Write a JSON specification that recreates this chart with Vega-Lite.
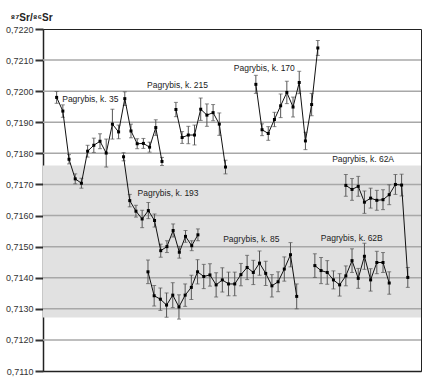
{
  "$schema": "https://vega.github.io/schema/vega-lite/v6.json",
  "width": 378,
  "height": 342,
  "autosize": "none",
  "padding": {"left": 43, "top": 29, "right": 7, "bottom": 10},
  "config": {
    "view": {"stroke": "#222", "strokeWidth": 1},
    "font": "Liberation Sans",
    "axisY": {
      "labelFontSize": 9, "labelColor": "#333", "labelPadding": 2,
      "tickSize": 8, "tickWidth": 2, "tickColor": "#333",
      "domainColor": "#222", "domainWidth": 1.5, "grid": false,
      "titleAngle": 0, "titleAlign": "left", "titleBaseline": "middle",
      "titleX": -33, "titleY": -12, "titleFontSize": 10, "titleFontWeight": "bold", "titleColor": "#222",
      "titleFont": "Liberation Sans, DejaVu Sans"
    },
    "axisX": {"labels": false, "ticks": false, "grid": false, "domainColor": "#222", "domainWidth": 1.5}
  },
  "resolve": {"axis": {"y": "independent", "x": "independent"}},
  "datasets": {
    "band": [{"lo": 0.71272, "hi": 0.71761}],
    "grid": [{"g": 0.7210}, {"g": 0.7200}, {"g": 0.7190}, {"g": 0.7180}, {"g": 0.7170}, {"g": 0.7160}, {"g": 0.7150}, {"g": 0.7140}, {"g": 0.7130}, {"g": 0.7120}],
    "labels": [
      {"t": "Pagrybis, k. 35", "x": 3.1, "v": 0.71976},
      {"t": "Pagrybis, k. 215", "x": 16.8, "v": 0.72019},
      {"t": "Pagrybis, k. 170", "x": 30.8, "v": 0.72075},
      {"t": "Pagrybis, k. 193", "x": 15.27, "v": 0.71673},
      {"t": "Pagrybis, k. 85", "x": 29.08, "v": 0.71523},
      {"t": "Pagrybis, k. 62A", "x": 46.66, "v": 0.71781},
      {"t": "Pagrybis, k. 62B", "x": 44.84, "v": 0.71528}
    ],
    "pts": [
      {"s": "35", "x": 2.2, "v": 0.71980, "e": 0.00019},
      {"s": "35", "x": 3.2, "v": 0.71936, "e": 0.00020},
      {"s": "35", "x": 4.2, "v": 0.71781, "e": 0.00015},
      {"s": "35", "x": 5.2, "v": 0.71718, "e": 0.00016},
      {"s": "35", "x": 6.2, "v": 0.71704, "e": 0.00016},
      {"s": "35", "x": 7.2, "v": 0.71807, "e": 0.00019},
      {"s": "35", "x": 8.2, "v": 0.71826, "e": 0.00023},
      {"s": "35", "x": 9.2, "v": 0.71839, "e": 0.00024},
      {"s": "35", "x": 10.2, "v": 0.71801, "e": 0.00045},
      {"s": "35", "x": 11.2, "v": 0.71894, "e": 0.00048},
      {"s": "35", "x": 12.2, "v": 0.71869, "e": 0.00022},
      {"s": "35", "x": 13.2, "v": 0.71976, "e": 0.00022},
      {"s": "35", "x": 14.2, "v": 0.71872, "e": 0.00022},
      {"s": "35", "x": 15.2, "v": 0.71831, "e": 0.00016},
      {"s": "35", "x": 16.2, "v": 0.71832, "e": 0.00016},
      {"s": "35", "x": 17.2, "v": 0.71820, "e": 0.00016},
      {"s": "35", "x": 18.2, "v": 0.71883, "e": 0.00025},
      {"s": "35", "x": 19.2, "v": 0.71774, "e": 0.00013},

      {"s": "193", "x": 13.0, "v": 0.71789, "e": 0.00013},
      {"s": "193", "x": 14.0, "v": 0.71648, "e": 0.00020},
      {"s": "193", "x": 15.0, "v": 0.71614, "e": 0.00019},
      {"s": "193", "x": 16.0, "v": 0.71589, "e": 0.00028},
      {"s": "193", "x": 17.0, "v": 0.71616, "e": 0.00026},
      {"s": "193", "x": 18.0, "v": 0.71584, "e": 0.00021},
      {"s": "193", "x": 19.0, "v": 0.71487, "e": 0.00021},
      {"s": "193", "x": 20.0, "v": 0.71500, "e": 0.00019},
      {"s": "193", "x": 21.0, "v": 0.71552, "e": 0.00021},
      {"s": "193", "x": 22.0, "v": 0.71482, "e": 0.00019},
      {"s": "193", "x": 23.0, "v": 0.71533, "e": 0.00019},
      {"s": "193", "x": 24.0, "v": 0.71503, "e": 0.00016},
      {"s": "193", "x": 25.0, "v": 0.71538, "e": 0.00019},

      {"s": "215", "x": 21.45, "v": 0.71941, "e": 0.00023},
      {"s": "215", "x": 22.45, "v": 0.71851, "e": 0.00019},
      {"s": "215", "x": 23.45, "v": 0.71859, "e": 0.00028},
      {"s": "215", "x": 24.45, "v": 0.71859, "e": 0.00032},
      {"s": "215", "x": 25.45, "v": 0.71942, "e": 0.00036},
      {"s": "215", "x": 26.45, "v": 0.71923, "e": 0.00036},
      {"s": "215", "x": 27.45, "v": 0.71931, "e": 0.00026},
      {"s": "215", "x": 28.45, "v": 0.71894, "e": 0.00036},
      {"s": "215", "x": 29.45, "v": 0.71756, "e": 0.00022},

      {"s": "85", "x": 16.94, "v": 0.71419, "e": 0.00038},
      {"s": "85", "x": 17.94, "v": 0.71342, "e": 0.00033},
      {"s": "85", "x": 18.94, "v": 0.71331, "e": 0.00036},
      {"s": "85", "x": 19.94, "v": 0.71312, "e": 0.00039},
      {"s": "85", "x": 20.94, "v": 0.71344, "e": 0.00040},
      {"s": "85", "x": 21.94, "v": 0.71306, "e": 0.00039},
      {"s": "85", "x": 22.94, "v": 0.71344, "e": 0.00036},
      {"s": "85", "x": 23.94, "v": 0.71369, "e": 0.00039},
      {"s": "85", "x": 24.94, "v": 0.71419, "e": 0.00039},
      {"s": "85", "x": 25.94, "v": 0.71404, "e": 0.00039},
      {"s": "85", "x": 26.94, "v": 0.71409, "e": 0.00036},
      {"s": "85", "x": 27.94, "v": 0.71377, "e": 0.00039},
      {"s": "85", "x": 28.94, "v": 0.71393, "e": 0.00039},
      {"s": "85", "x": 29.94, "v": 0.71380, "e": 0.00038},
      {"s": "85", "x": 30.94, "v": 0.71380, "e": 0.00038},
      {"s": "85", "x": 31.94, "v": 0.71410, "e": 0.00036},
      {"s": "85", "x": 32.94, "v": 0.71433, "e": 0.00039},
      {"s": "85", "x": 33.94, "v": 0.71417, "e": 0.00039},
      {"s": "85", "x": 34.94, "v": 0.71447, "e": 0.00039},
      {"s": "85", "x": 35.94, "v": 0.71414, "e": 0.00039},
      {"s": "85", "x": 36.94, "v": 0.71374, "e": 0.00036},
      {"s": "85", "x": 37.94, "v": 0.71387, "e": 0.00032},
      {"s": "85", "x": 38.94, "v": 0.71428, "e": 0.00039},
      {"s": "85", "x": 39.94, "v": 0.71474, "e": 0.00039},
      {"s": "85", "x": 40.94, "v": 0.71340, "e": 0.00040},

      {"s": "170", "x": 34.35, "v": 0.72022, "e": 0.00029},
      {"s": "170", "x": 35.35, "v": 0.71876, "e": 0.00019},
      {"s": "170", "x": 36.35, "v": 0.71864, "e": 0.00022},
      {"s": "170", "x": 37.35, "v": 0.71909, "e": 0.00023},
      {"s": "170", "x": 38.35, "v": 0.71953, "e": 0.00038},
      {"s": "170", "x": 39.35, "v": 0.71996, "e": 0.00036},
      {"s": "170", "x": 40.35, "v": 0.71949, "e": 0.00032},
      {"s": "170", "x": 41.35, "v": 0.72028, "e": 0.00036},
      {"s": "170", "x": 42.35, "v": 0.71840, "e": 0.00028},
      {"s": "170", "x": 43.35, "v": 0.71957, "e": 0.00036},
      {"s": "170", "x": 44.35, "v": 0.72139, "e": 0.00024},

      {"s": "62B", "x": 43.87, "v": 0.71439, "e": 0.00038},
      {"s": "62B", "x": 44.87, "v": 0.71423, "e": 0.00042},
      {"s": "62B", "x": 45.87, "v": 0.71417, "e": 0.00038},
      {"s": "62B", "x": 46.87, "v": 0.71393, "e": 0.00029},
      {"s": "62B", "x": 47.87, "v": 0.71377, "e": 0.00036},
      {"s": "62B", "x": 48.87, "v": 0.71406, "e": 0.00032},
      {"s": "62B", "x": 49.87, "v": 0.71455, "e": 0.00038},
      {"s": "62B", "x": 50.87, "v": 0.71398, "e": 0.00032},
      {"s": "62B", "x": 51.87, "v": 0.71469, "e": 0.00042},
      {"s": "62B", "x": 52.87, "v": 0.71393, "e": 0.00036},
      {"s": "62B", "x": 53.87, "v": 0.71449, "e": 0.00036},
      {"s": "62B", "x": 54.87, "v": 0.71449, "e": 0.00032},
      {"s": "62B", "x": 55.87, "v": 0.71383, "e": 0.00036},

      {"s": "62A", "x": 48.87, "v": 0.71697, "e": 0.00035},
      {"s": "62A", "x": 49.87, "v": 0.71684, "e": 0.00035},
      {"s": "62A", "x": 50.87, "v": 0.71694, "e": 0.00032},
      {"s": "62A", "x": 51.87, "v": 0.71643, "e": 0.00036},
      {"s": "62A", "x": 52.87, "v": 0.71656, "e": 0.00032},
      {"s": "62A", "x": 53.87, "v": 0.71649, "e": 0.00032},
      {"s": "62A", "x": 54.87, "v": 0.71651, "e": 0.00032},
      {"s": "62A", "x": 55.87, "v": 0.71667, "e": 0.00032},
      {"s": "62A", "x": 56.87, "v": 0.71700, "e": 0.00032},
      {"s": "62A", "x": 57.87, "v": 0.71698, "e": 0.00035},
      {"s": "62A", "x": 58.87, "v": 0.71401, "e": 0.00032}
    ]
  },
  "layer": [
    {
      "data": {"name": "band"},
      "mark": {"type": "rect", "color": "#e1e1e1"},
      "encoding": {
        "y": {"field": "lo", "type": "quantitative",
              "scale": {"domain": [0.711, 0.722], "nice": false, "zero": false},
              "axis": null},
        "y2": {"field": "hi"}
      }
    },
    {
      "data": {"name": "grid"},
      "mark": {"type": "rule", "color": "#a8a8a8", "strokeWidth": 1.5},
      "encoding": {"y": {"field": "g", "type": "quantitative", "title": "⁸⁷Sr/⁸⁶Sr",
        "axis": {"values": [0.711, 0.712, 0.713, 0.714, 0.715, 0.716, 0.717, 0.718, 0.719, 0.72, 0.721, 0.722],
                 "labelOverlap": false, "labelSeparation": 0, "labelBound": false, "labelFlush": false,
                 "labelExpr": "replace(format(datum.value, '.4f'), '.', ',')"}}}
    },
    {
      "data": {"name": "pts"},
      "mark": {"type": "errorbar", "ticks": {"size": 4, "color": "#555"}, "rule": {"color": "#555", "strokeWidth": 1}},
      "encoding": {
        "x": {"field": "x", "type": "quantitative", "scale": {"domain": [0, 61], "nice": false, "zero": false}, "axis": {"title": null}},
        "y": {"field": "v", "type": "quantitative", "axis": null},
        "yError": {"field": "e"}
      }
    },
    {
      "data": {"name": "pts"},
      "mark": {"type": "line", "color": "#111", "strokeWidth": 1},
      "encoding": {
        "x": {"field": "x", "type": "quantitative", "axis": null},
        "y": {"field": "v", "type": "quantitative", "axis": null},
        "detail": {"field": "s"},
        "order": {"field": "x"}
      }
    },
    {
      "data": {"name": "pts"},
      "mark": {"type": "point", "shape": "square", "filled": true, "size": 9, "color": "#000", "opacity": 1},
      "encoding": {
        "x": {"field": "x", "type": "quantitative", "axis": null},
        "y": {"field": "v", "type": "quantitative", "axis": null}
      }
    },
    {
      "data": {"name": "labels"},
      "mark": {"type": "text", "align": "left", "baseline": "middle", "fontSize": 8.5, "color": "#222"},
      "encoding": {
        "x": {"field": "x", "type": "quantitative", "axis": null},
        "y": {"field": "v", "type": "quantitative", "axis": null},
        "text": {"field": "t"}
      }
    }
  ]
}
